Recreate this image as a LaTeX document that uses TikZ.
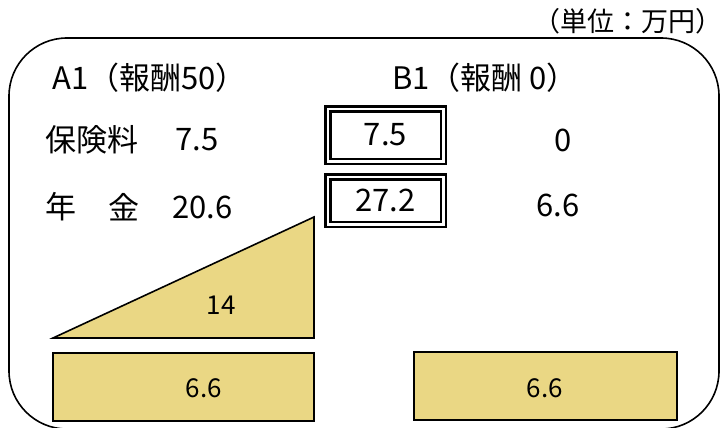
\documentclass[tikz,border=0pt]{standalone}
\usepackage{fontspec}
\setmainfont{Noto Sans CJK JP}
\usetikzlibrary{positioning}
\definecolor{pension}{RGB}{234,215,132}

\begin{document}
\begin{tikzpicture}[x=1pt,y=-1pt,
   lbl/.style={font=\fontsize{31}{31}\selectfont,inner sep=0pt},
   num/.style={font=\fontsize{31}{31}\selectfont,inner sep=0pt},
   small/.style={font=\fontsize{26}{26}\selectfont,inner sep=0pt},
   dbox/.style={draw,double,line width=2.5pt,double distance=2.5pt,minimum width=115.5pt,inner sep=0pt,font=\fontsize{31}{31}\selectfont},
   part/.style={draw,line width=1.6pt,fill=pension}]
\useasboundingbox (0,0) rectangle (723,428);
\draw[line width=1.6pt,rounded corners=58pt] (9,38) rectangle (719,429);
\node(unit)[lbl,font=\fontsize{27}{27}\selectfont,anchor=east] at (723,21) {（単位：万円）};
% column A1
\node(headA)[lbl,anchor=west] at (52,78) {A1（報酬50）};
\node(premL)[lbl,anchor=west] at (45,140) {保険料};
\node(premA)[num,anchor=west] at (175,140) {7.5};
\node(penL)[lbl,anchor=west] at (45,207) {年};
\node(penL2)[lbl,anchor=west] at (108,207) {金};
\node(penA)[num,anchor=west] at (172,207) {20.6};
% boxed values
\node(premBox)[dbox,minimum height=52.5pt] at (385.5,135) {7.5};
\node(penBox)[dbox,minimum height=47.5pt] at (385.5,200.5) {27.2};
% column B1
\node(headB)[lbl,anchor=west] at (392,78) {B1（報酬 0）};
\node(premB)[num] at (563,140) {0};
\node(penB)[num] at (558,205) {6.6};
% parts
\draw[part] (53,338) -- (314,217) -- (314,338) -- cycle;
\node(partA)[small] at (221,305) {14};
\draw[part] (53,353) rectangle (314,421);
\node(baseA)[small] at (204,388) {6.6};
\draw[part] (414,352) rectangle (677,420);
\node(baseB)[small] at (545,388) {6.6};
\end{tikzpicture}
\end{document}
